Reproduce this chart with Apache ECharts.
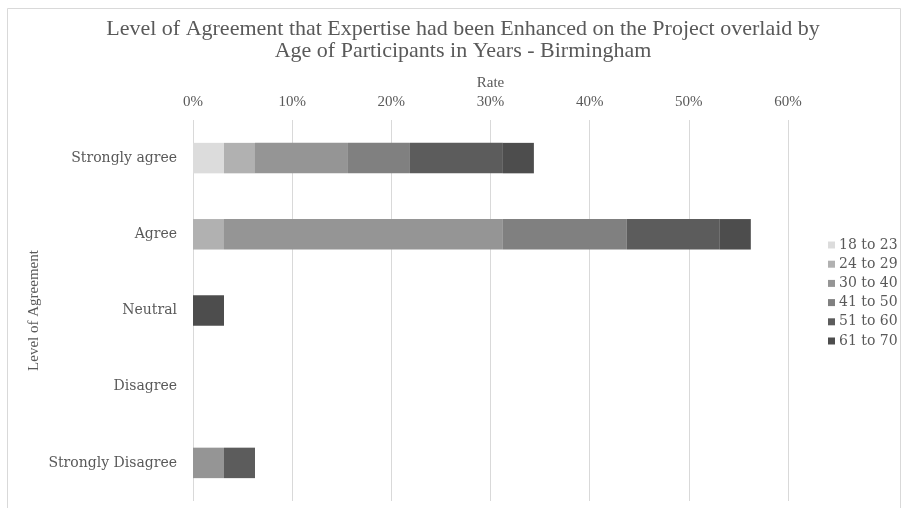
<!DOCTYPE html>
<html>
<head>
<meta charset="utf-8">
<script src="https://cdn.jsdelivr.net/npm/echarts@6/dist/echarts.min.js"></script>
<style>
  html, body { margin: 0; padding: 0; background: #fff; }
  #chart { width: 905px; height: 508px; }
</style>
</head>
<body>
<div id="chart"></div>
<script>
// Agreement levels, listed top to bottom
const categories = ['Strongly agree', 'Agree', 'Neutral', 'Disagree', 'Strongly Disagree'];

// Age groups (stack order, left to right)
const ageGroups = ['18 to 23', '24 to 29', '30 to 40', '41 to 50', '51 to 60', '61 to 70'];

// Share of respondents (%) per agreement level, one array per age group
const age18to23 = [3.125, 0, 0, 0, 0];
const age24to29 = [3.125, 3.125, 0, 0, 0];
const age30to40 = [9.375, 28.125, 0, 0, 3.125];
const age41to50 = [6.25, 12.5, 0, 0, 0];
const age51to60 = [9.375, 9.375, 0, 0, 3.125];
const age61to70 = [3.125, 3.125, 3.125, 0, 0];

const xTicks = [0, 10, 20, 30, 40, 50, 60];

const seriesValues = [age18to23, age24to29, age30to40, age41to50, age51to60, age61to70];
const shades = ['#dcdcdc', '#b1b1b1', '#959595', '#808080', '#5c5c5c', '#4d4d4d'];

const NARROW = 'Liberation Serif';
const WIDE = 'DejaVu Serif';
const TXT = '#595959';

const chart = echarts.init(document.getElementById('chart'));
chart.setOption({
  animation: false,
  backgroundColor: '#ffffff',
  graphic: [{
    type: 'rect',
    shape: { x: 7.5, y: 8.5, width: 893, height: 520 },
    style: { fill: 'none', stroke: '#d9d9d9', lineWidth: 1 },
    silent: true
  }],
  title: {
    text: 'Level of Agreement that Expertise had been Enhanced on the Project overlaid by\nAge of Participants in Years - Birmingham',
    left: 458,
    top: 13,
    textAlign: 'center',
    textStyle: { fontFamily: NARROW, fontSize: 22, fontWeight: 'normal', color: TXT, lineHeight: 22 }
  },
  legend: {
    data: ageGroups,
    orient: 'vertical',
    left: 823,
    top: 233,
    itemWidth: 7,
    itemHeight: 7,
    itemGap: 5.2,
    icon: 'rect',
    textStyle: { fontFamily: WIDE, fontSize: 14, color: TXT, padding: [0, 0, 0, -1] }
  },
  grid: { left: 193, right: 117, top: 120, bottom: 7, containLabel: false },
  xAxis: {
    type: 'value',
    position: 'top',
    min: 0,
    max: 60,
    interval: 10,
    name: 'Rate',
    nameLocation: 'middle',
    nameGap: 27,
    nameTextStyle: { fontFamily: NARROW, fontSize: 15, color: TXT },
    axisLine: { show: false },
    axisTick: { show: false },
    axisLabel: {
      fontFamily: NARROW, fontSize: 15, color: TXT, margin: 10,
      formatter: function (v) { return xTicks.indexOf(v) >= 0 ? v + '%' : ''; }
    },
    splitLine: { show: true, lineStyle: { color: '#d9d9d9', width: 1 } }
  },
  yAxis: {
    type: 'category',
    inverse: true,
    data: categories,
    name: 'Level of Agreement',
    nameLocation: 'middle',
    nameGap: 151,
    nameMoveOverlap: false,
    nameTextStyle: { fontFamily: NARROW, fontSize: 15, color: TXT },
    axisLine: { show: false },
    axisTick: { show: false },
    axisLabel: { fontFamily: WIDE, fontSize: 14, color: TXT, margin: 16 },
    splitLine: { show: false }
  },
  series: ageGroups.map(function (name, i) {
    return {
      name: name,
      type: 'bar',
      stack: 'total',
      barWidth: '40%',
      data: seriesValues[i],
      itemStyle: { color: shades[i] },
      emphasis: { disabled: true }
    };
  })
});
</script>
</body>
</html>
